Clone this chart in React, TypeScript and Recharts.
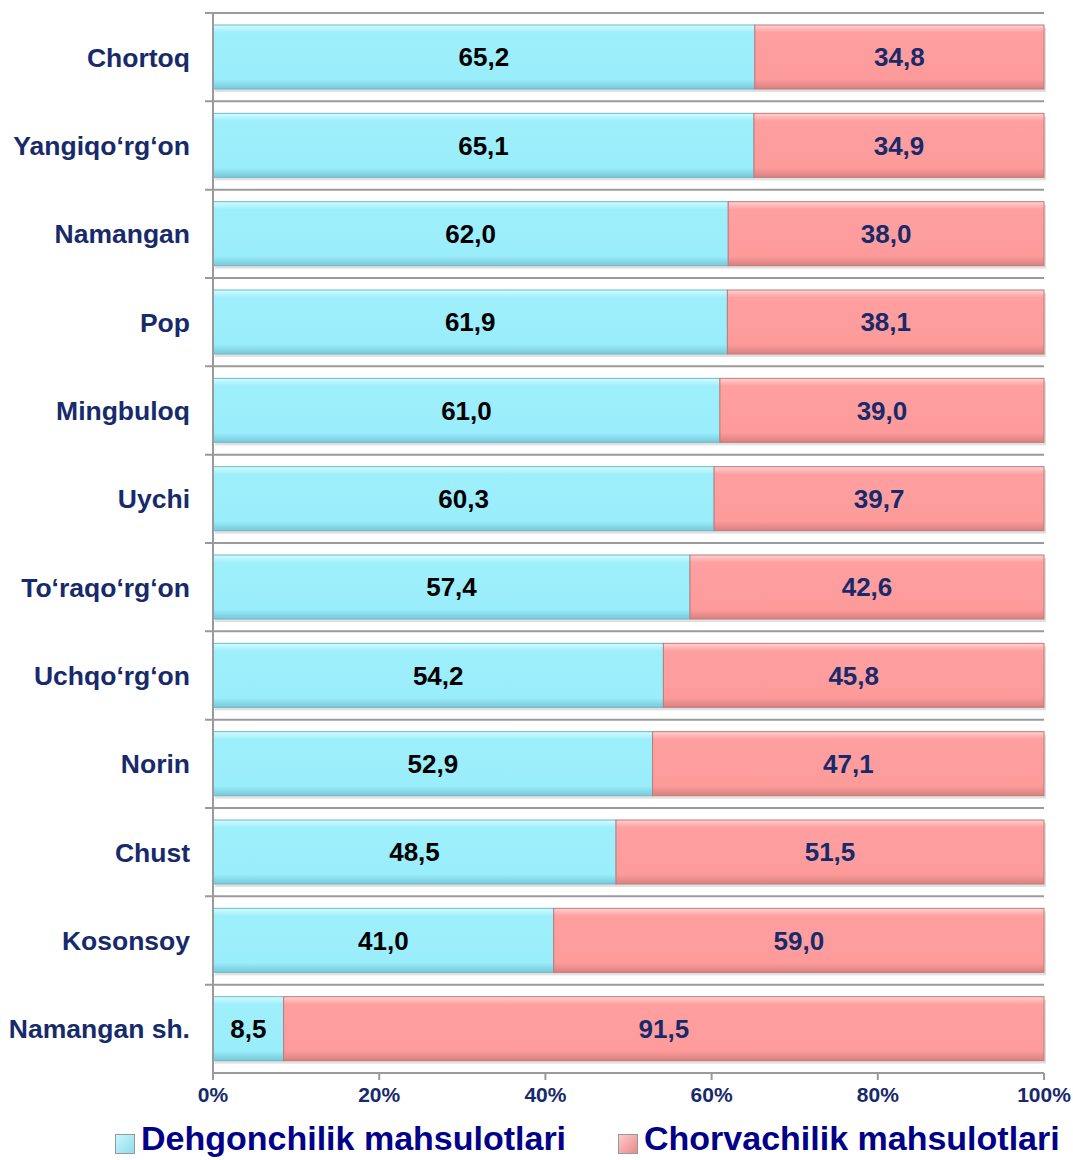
import React from 'react';
import { BarChart, Bar, XAxis, YAxis, CartesianGrid, LabelList, Legend } from 'recharts';

const categories = [
  'Chortoq', 'Yangiqo‘rg‘on', 'Namangan', 'Pop', 'Mingbuloq', 'Uychi',
  'To‘raqo‘rg‘on', 'Uchqo‘rg‘on', 'Norin', 'Chust', 'Kosonsoy', 'Namangan sh.',
];
const dehqonchilik = [65.2, 65.1, 62.0, 61.9, 61.0, 60.3, 57.4, 54.2, 52.9, 48.5, 41.0, 8.5];
const chorvachilik = [34.8, 34.9, 38.0, 38.1, 39.0, 39.7, 42.6, 45.8, 47.1, 51.5, 59.0, 91.5];
const xTicks = [0, 20, 40, 60, 80, 100];
const seriesNames = ['Dehgonchilik mahsulotlari', 'Chorvachilik mahsulotlari'];

const data = categories.map((c, i) => ({ name: c, a: dehqonchilik[i], b: chorvachilik[i] }));

const NAVY = '#172A6B';
const LEGEND_BLUE = '#000088';

const fmt = (v: any) => Number(v).toFixed(1).replace('.', ',');

const makeShape = (id: string, edge: string) => (props: any) => {
  const { x, y, width, height } = props;
  if (!width || width <= 0) return null;
  return (
    <g>
      <rect x={x + 2} y={y + 3} width={width} height={height} fill="#000" opacity={0.12} />
      <rect x={x} y={y} width={width} height={height} fill={`url(#${id})`} stroke={edge} strokeWidth={1} />
    </g>
  );
};

const CyanShape = makeShape('gCyan', '#6db8c8');
const PinkShape = makeShape('gPink', '#c27878');

const GridLine = (props: any) => {
  const { x1, x2, y1 } = props;
  return <line x1={x1 - 8} x2={x2} y1={y1} y2={y1} stroke="#9a9a9a" strokeWidth={2} />;
};

const LegendContent = () => (
  <div style={{ position: 'relative', height: 40, fontFamily: 'Liberation Sans, Arial, sans-serif' }}>
    {[
      { left: 115, name: seriesNames[0], c1: '#c9f7ff', c2: '#8fdcea' },
      { left: 618, name: seriesNames[1], c1: '#ffc9c9', c2: '#e98b8b' },
    ].map((it) => (
      <div key={it.name} style={{ position: 'absolute', left: it.left, top: 0, display: 'flex', alignItems: 'flex-start' }}>
        <div style={{ width: 18, height: 18, background: `linear-gradient(135deg, ${it.c1}, ${it.c2})`, border: '1px solid #999', marginRight: 6, marginTop: 16 }} />
        <span style={{ fontSize: 34, fontWeight: 'bold', color: LEGEND_BLUE, lineHeight: '40px', whiteSpace: 'nowrap' }}>{it.name}</span>
      </div>
    ))}
  </div>
);

export default function App() {
  return (
    <div style={{ position: 'absolute', left: 0, top: 0, width: 1073, height: 1160, background: '#fff', overflow: 'hidden' }}>
      <BarChart
        width={1073}
        height={1160}
        data={data}
        layout="vertical"
        margin={{ top: 13, right: 29, left: 0, bottom: 7 }}
        barSize={64}
        style={{ fontFamily: 'Liberation Sans, Arial, sans-serif' }}
      >
        <defs>
          <linearGradient id="gCyan" x1="0" y1="0" x2="0" y2="1">
            <stop offset="0" stopColor="#d4fbff" />
            <stop offset="0.12" stopColor="#9eeffc" />
            <stop offset="0.85" stopColor="#9aedfb" />
            <stop offset="1" stopColor="#78c9da" />
          </linearGradient>
          <linearGradient id="gPink" x1="0" y1="0" x2="0" y2="1">
            <stop offset="0" stopColor="#ffd2d2" />
            <stop offset="0.12" stopColor="#ff9f9f" />
            <stop offset="0.85" stopColor="#fd9b9b" />
            <stop offset="1" stopColor="#d98080" />
          </linearGradient>
        </defs>
        <CartesianGrid
          vertical={false}
          horizontal={GridLine as any}
          horizontalCoordinatesGenerator={({ offset }: any) =>
            Array.from({ length: categories.length }, (_, i) => offset.top + (i * offset.height) / categories.length)
          }
        />
        <XAxis
          type="number"
          domain={[0, 100]}
          ticks={xTicks}
          tickFormatter={(v) => `${v}%`}
          height={40}
          stroke="#9a9a9a"
          strokeWidth={2}
          tickSize={7}
          tick={{ fill: NAVY, fontSize: 21, fontWeight: 'bold' }}
          tickMargin={7}
          interval={0}
        />
        <YAxis
          type="category"
          dataKey="name"
          width={213}
          stroke="#9a9a9a"
          strokeWidth={2}
          tickLine={false}
          tickMargin={17}
          tick={{ fill: NAVY, fontSize: 26.5, fontWeight: 'bold' }}
          interval={0}
        />
        <Bar dataKey="a" stackId="s" name={seriesNames[0]} fill="#9eeffc" shape={CyanShape} isAnimationActive={false}>
          <LabelList dataKey="a" position="center" formatter={fmt} fill="#000" fontSize={26} fontWeight="bold" />
        </Bar>
        <Bar dataKey="b" stackId="s" name={seriesNames[1]} fill="#ff9f9f" shape={PinkShape} isAnimationActive={false}>
          <LabelList dataKey="b" position="center" formatter={fmt} fill={NAVY} fontSize={26} fontWeight="bold" />
        </Bar>
        <Legend
          content={<LegendContent />}
          wrapperStyle={{ position: 'absolute', left: 0, top: 1118, width: 1073, height: 40 }}
        />
      </BarChart>
    </div>
  );
}
